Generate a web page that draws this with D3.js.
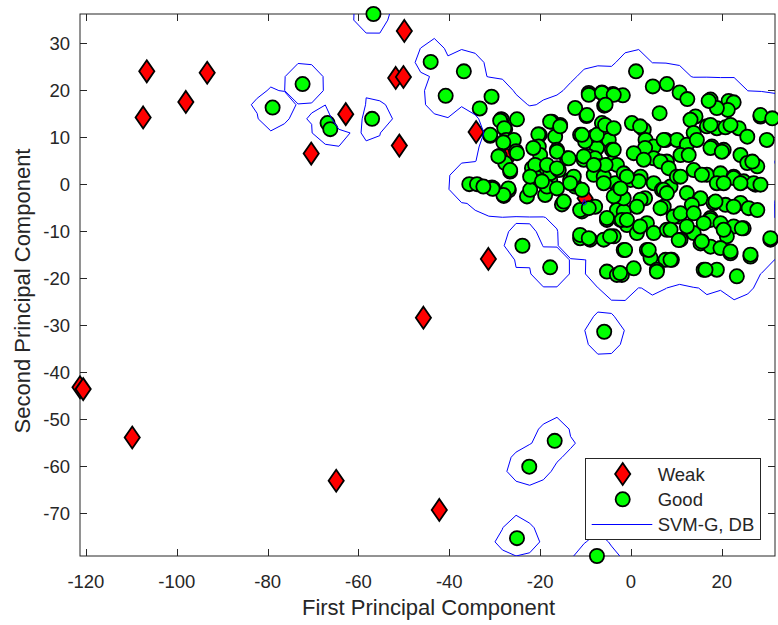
<!DOCTYPE html>
<html>
<head>
<meta charset="utf-8">
<script src="https://cdn.jsdelivr.net/npm/d3@7"></script>
<style>
  body { margin: 0; background: #fff; }
  svg { display: block; }
  text { font-family: "Liberation Sans", Arial, Helvetica, sans-serif; fill: #262626; }
</style>
</head>
<body>
<svg id="chart" width="778" height="625"></svg>
<script>
// Samples projected on the first two principal components: [PC1, PC2]
const weakPoints = [
  [-106.6, 24.0], [-107.4, 14.2], [-98.0, 17.5], [-93.3, 23.7],
  [-49.9, 32.6], [-51.8, 22.6], [-50.1, 22.8], [-62.8, 14.9],
  [-70.4, 6.5], [-51.0, 8.2], [-34.1, 11.1], [-31.4, -15.9],
  [-45.7, -28.4], [-121.3, -43.2], [-120.6, -43.6], [-109.8, -53.9],
  [-64.9, -63.1], [-42.2, -69.3], [-10.1, -3.0], [-27.3, 5.4]
];

const goodPoints = [
  // scattered samples
  [-56.7, 36.2], [-72.3, 21.3], [-78.9, 16.3], [-66.8, 13.0], [-66.2, 11.7],
  [-57.0, 13.9], [-44.1, 26.0], [-36.8, 24.0], [-40.8, 18.8], [-16.8, -54.6],
  [-22.4, -60.1], [-25.1, -75.3], [-7.5, -79.1], [-5.9, -31.4], [-23.9, -13.1],
  [-17.8, -17.7],
  // main group
  [1.1, 24.0], [4.8, 20.8], [7.9, 21.3], [10.7, 19.5], [12.4, 18.1],
  [17.5, 18.0], [21.5, 17.7], [22.6, 17.4], [21.3, 15.8], [18.9, 16.2],
  [17.1, 17.7], [6.3, 15.1], [14.2, 14.4], [13.1, 13.7],
  [-9.3, 19.4], [-6.4, 19.5], [-4.0, 19.2], [-1.8, 18.9], [-5.9, 16.7],
  [-9.3, 19.0], [-6.4, 19.4], [-3.8, 19.0], [-5.6, 16.9],
  [-12.3, 16.2], [-9.8, 14.5], [-9.7, 14.7],
  [-30.7, 18.6], [-33.3, 16.1], [-28.6, 13.8], [-25.1, 13.8], [-27.7, 11.7],
  [-28.4, 13.7], [-28.8, 13.5], [-27.9, 11.9], [-31.0, 10.3],
  [-31.0, 10.5], [-27.5, 9.4], [-25.8, 9.4], [-25.3, 7.0], [-28.1, 8.9],
  [-28.9, 6.0], [-26.6, 2.7], [-27.7, 4.5], [-25.1, 6.6], [-29.2, 5.9], [-26.6, 3.0],
  [-30.6, -0.7], [-26.9, -1.3], [-28.0, -2.5], [-22.9, -2.6], [-22.2, -1.2],
  [-30.3, -0.9], [-27.0, -0.9], [-28.1, -2.3],
  [-35.6, 0.0], [-33.9, 0.0], [-30.5, -1.0], [-32.5, -0.5],
  [-17.4, 13.3], [-15.6, 12.6], [-20.1, 10.5], [-16.7, 10.1],
  [-20.4, 10.6], [-17.8, 13.3], [-15.6, 12.3],
  [-20.3, 8.0], [-16.3, 7.3], [-14.1, 5.5], [-20.0, 6.2], [-21.5, 7.7],
  [-16.3, 6.9], [-13.7, 5.5],
  [-21.8, 3.4], [-19.2, 2.3], [-17.8, 0.9], [-21.1, 1.6], [-21.1, 4.1],
  [-22.2, 1.6], [-17.8, 2.3],
  [-18.9, -2.3], [-15.2, -4.3], [-18.5, -0.5], [-14.8, -3.7],
  [-13.4, 0.9], [-12.3, -0.5], [-12.6, 0.1], [-10.8, -1.2], [-12.6, 1.6], [-13.4, 0.2],
  [-16.3, -0.9], [-15.9, 3.0], [-18.5, 4.1], [-16.3, 3.4], [-19.6, 0.6],
  [-11.2, 10.5], [-8.2, 10.1], [-7.5, 7.7], [-9.3, 5.9], [-10.4, 5.2],
  [-10.1, 9.1], [-4.9, 9.4], [-6.4, 13.0], [-7.9, 5.5], [-7.5, 10.5], [-10.8, 10.5],
  [-10.4, 5.9],
  [-5.7, 12.6], [-3.8, 11.9],
  [-4.2, 7.3], [-6.8, 3.8], [-8.2, 2.0], [-6.0, 1.6], [-4.2, 4.5], [-3.8, 7.3],
  [-3.1, 4.1], [-5.6, 4.1], [-8.2, 4.1],
  [-3.5, 0.2], [-1.6, 2.3], [-0.1, 0.9], [-6.0, 0.2], [-2.7, -1.2],
  [-10.8, -5.8], [-7.9, -4.8], [-5.3, -7.6], [-2.3, -7.6], [-0.9, -8.7],
  [-11.2, -5.5], [-9.3, -5.1], [-3.1, -5.5], [-1.6, -5.8], [-5.3, -7.2], [-2.0, -7.6],
  [-11.2, -11.5], [-9.0, -11.8], [-6.0, -11.8], [-3.8, -11.1], [-11.2, -10.8],
  [-9.3, -11.5], [-4.6, -11.1],
  [-1.6, -14.0], [-1.3, -14.0],
  [-5.3, -18.6], [-2.0, -19.3], [0.6, -17.9], [-3.1, -19.3], [-2.4, -18.9],
  [3.5, -14.0], [4.3, -15.7], [7.6, -16.1], [9.0, -16.1], [3.9, -14.0],
  [5.7, -18.2], [5.7, -18.6],
  [0.2, 13.0], [2.8, 11.6], [3.2, 9.4], [5.0, 8.0], [7.6, 9.4], [10.1, 9.4],
  [2.0, 12.3], [3.1, 7.7], [5.0, 5.5], [7.9, 4.8], [12.3, 8.4], [7.2, 9.4],
  [0.6, 6.6], [2.8, 5.2], [6.5, 4.8], [8.3, 3.4], [10.9, 6.2], [12.7, 6.2],
  [2.1, 1.6], [5.0, 0.2], [6.8, -1.2], [8.7, -0.5], [10.1, 1.6],
  [1.7, 0.6], [-0.9, 1.6], [-2.4, -1.9], [7.2, -1.2], [10.9, 1.6],
  [13.8, 3.0], [16.7, 2.0], [19.7, 2.3], [22.6, 1.6], [15.6, 2.0], [18.9, 0.2],
  [22.6, 1.3], [24.8, 0.6], [27.4, -0.1],
  [13.8, 10.9], [16.7, 12.3], [18.9, 11.9], [20.8, 12.1], [23.7, 11.9], [25.6, 10.1],
  [17.5, 12.6], [21.9, 12.6],
  [14.5, 9.4], [17.8, 8.0], [20.4, 7.3], [24.1, 6.2], [25.6, 4.5], [27.8, 3.8],
  [17.5, 7.7], [20.0, 6.9], [26.7, 4.8],
  [27.0, 0.2], [28.5, -0.1], [24.1, 0.2], [20.4, 0.2],
  [28.5, 14.4], [28.5, 14.7], [31.1, 14.0], [29.9, 9.4], [30.7, -11.8], [30.7, -11.5],
  [12.3, -1.9], [15.3, -3.0], [18.2, -4.0], [20.8, -4.4], [24.1, -4.0],
  [25.9, -5.1], [27.8, -5.5],
  [3.1, -3.0], [7.2, -4.8], [10.5, -6.9], [13.4, -4.4], [17.5, -7.2], [18.6, -3.7],
  [22.6, -4.8],
  [6.5, -5.1], [9.4, -6.9], [10.9, -6.2], [13.8, -6.2], [17.5, -7.6], [19.7, -8.3],
  [22.6, -9.0], [24.8, -9.4], [21.1, -11.1],
  [3.5, -8.3], [1.3, -10.4], [5.0, -10.4], [7.9, -9.7], [10.9, -11.8], [13.8, -10.4],
  [-0.9, -7.6], [2.0, -9.0], [8.7, -9.7], [12.3, -9.0], [16.0, -8.3], [20.4, -9.7],
  [24.4, -9.4],
  [15.3, -12.6], [17.5, -13.3], [19.7, -13.6], [21.9, -14.7], [10.5, -11.9], [15.6, -12.2],
  [21.9, -14.3],
  [16.0, -18.2], [18.9, -18.2], [23.3, -19.6], [26.3, -15.4], [8.7, -16.1],
  [16.4, -18.2], [26.3, -15.0],
  [7.9, -1.9], [2.1, -3.3], [-1.6, -3.0], [1.3, -4.8], [-3.8, -2.6], [-2.3, -0.9]
];

const xLimits = [-121.3, 31.7];
const yLimits = [-79.1, 36.2];
const xTicks = [-120, -100, -80, -60, -40, -20, 0, 20];
const yTicks = [-70, -60, -50, -40, -30, -20, -10, 0, 10, 20, 30];
const legendLabels = ["Weak", "Good", "SVM-G, DB"];
const xLabel = "First Principal Component";
const yLabel = "Second Principal Component";

// Gaussian-kernel classifier used for the decision boundary
const kernelSigma = 1.5;
const weakWeight = 3;
const supportRadius = 3.8;
const bias = -Math.exp(-(supportRadius * supportRadius) / (2 * kernelSigma * kernelSigma));
const gridStep = 3;

function score(px, py) {
  const s2 = 2 * kernelSigma * kernelSigma;
  let f = bias;
  for (const [gx, gy] of goodPoints) {
    const d2 = (px - gx) ** 2 + (py - gy) ** 2;
    if (d2 < 100) f += Math.exp(-d2 / s2);
  }
  for (const [wx, wy] of weakPoints) {
    const d2 = (px - wx) ** 2 + (py - wy) ** 2;
    if (d2 < 100) f -= weakWeight * Math.exp(-d2 / s2);
  }
  return f;
}

const svg = d3.select("#chart");
const plot = { left: 80, right: 775, top: 14, bottom: 556 };
const axisColor = "#262626";

const x = d3.scaleLinear().domain(xLimits).range([plot.left, plot.right]);
const y = d3.scaleLinear().domain(yLimits).range([plot.bottom, plot.top]);

svg.append("defs").append("clipPath").attr("id", "plotClip")
  .append("rect")
  .attr("x", plot.left).attr("y", plot.top)
  .attr("width", plot.right - plot.left).attr("height", plot.bottom - plot.top);

// Decision boundary from the score sampled on a regular grid
const gx0 = xLimits[0] - 2 * gridStep;
const gy0 = yLimits[0] - 2 * gridStep;
const nx = Math.ceil((xLimits[1] - xLimits[0]) / gridStep) + 5;
const ny = Math.ceil((yLimits[1] - yLimits[0]) / gridStep) + 5;
const gridValues = new Float64Array(nx * ny);
for (let j = 0; j < ny; j++) {
  for (let i = 0; i < nx; i++) {
    gridValues[j * nx + i] = score(gx0 + i * gridStep, gy0 + j * gridStep);
  }
}
const boundary = d3.contours().size([nx, ny]).thresholds([0])(gridValues);
const gridToScreen = d3.geoTransform({
  point(cx, cy) {
    this.stream.point(x(gx0 + (cx - 0.5) * gridStep), y(gy0 + (cy - 0.5) * gridStep));
  }
});
const boundaryPath = d3.geoPath(gridToScreen);

// Axes box
const tickLen = 7;
const axisG = svg.append("g");
axisG.append("rect")
  .attr("x", plot.left).attr("y", plot.top)
  .attr("width", plot.right - plot.left).attr("height", plot.bottom - plot.top)
  .attr("fill", "none").attr("stroke", axisColor).attr("stroke-width", 1);

const fontTick = 18.5;
xTicks.forEach(t => {
  const px = Math.round(x(t)) + 0.5;
  axisG.append("line").attr("x1", px).attr("x2", px)
    .attr("y1", plot.bottom).attr("y2", plot.bottom - tickLen)
    .attr("stroke", axisColor);
  axisG.append("line").attr("x1", px).attr("x2", px)
    .attr("y1", plot.top).attr("y2", plot.top + tickLen)
    .attr("stroke", axisColor);
  axisG.append("text").attr("x", x(t)).attr("y", 587.5)
    .attr("text-anchor", "middle").attr("font-size", fontTick)
    .text(t);
});
yTicks.forEach(t => {
  const py = Math.round(y(t)) + 0.5;
  axisG.append("line").attr("x1", plot.left).attr("x2", plot.left + tickLen)
    .attr("y1", py).attr("y2", py).attr("stroke", axisColor);
  axisG.append("line").attr("x1", plot.right).attr("x2", plot.right - tickLen)
    .attr("y1", py).attr("y2", py).attr("stroke", axisColor);
  axisG.append("text").attr("x", 70).attr("y", y(t) + 7)
    .attr("text-anchor", "end").attr("font-size", fontTick)
    .text(t);
});

svg.append("text").attr("x", (plot.left + plot.right) / 2 + 1).attr("y", 615)
  .attr("text-anchor", "middle").attr("font-size", 22).text(xLabel);
svg.append("text")
  .attr("transform", `translate(30,${(plot.top + plot.bottom) / 2 + 6}) rotate(-90)`)
  .attr("text-anchor", "middle").attr("font-size", 22).text(yLabel);

// Markers
const diamondPath = (w, h) => `M0,${-h}L${w},0L0,${h}L${-w},0Z`;
const markerStroke = 1.8;

svg.append("g").selectAll("path").data(weakPoints).join("path")
  .attr("transform", d => `translate(${x(d[0])},${y(d[1])})`)
  .attr("d", diamondPath(7.6, 11))
  .attr("fill", "#ff0000").attr("stroke", "#000").attr("stroke-width", markerStroke)
  .attr("stroke-linejoin", "miter");

svg.append("g").selectAll("circle").data(goodPoints).join("circle")
  .attr("cx", d => x(d[0])).attr("cy", d => y(d[1])).attr("r", 7.1)
  .attr("fill", "#00ff00").attr("stroke", "#000").attr("stroke-width", markerStroke);

svg.append("g").attr("clip-path", "url(#plotClip)")
  .selectAll("path").data(boundary).join("path")
  .attr("d", boundaryPath)
  .attr("fill", "none").attr("stroke", "#0000ff").attr("stroke-width", 1);

// Legend
const lg = svg.append("g");
lg.append("rect").attr("x", 585.5).attr("y", 458.5).attr("width", 175).attr("height", 81)
  .attr("fill", "#fff").attr("stroke", axisColor).attr("stroke-width", 1);
lg.append("path").attr("transform", "translate(622.7,474)")
  .attr("d", diamondPath(7.6, 11))
  .attr("fill", "#ff0000").attr("stroke", "#000").attr("stroke-width", markerStroke);
lg.append("circle").attr("cx", 622.7).attr("cy", 499.3).attr("r", 7.1)
  .attr("fill", "#00ff00").attr("stroke", "#000").attr("stroke-width", markerStroke);
lg.append("line").attr("x1", 591.7).attr("x2", 652.3).attr("y1", 524.5).attr("y2", 524.5)
  .attr("stroke", "#0000ff").attr("stroke-width", 1);
[474, 499.3, 524.3].forEach((cy, i) => {
  lg.append("text").attr("x", 657.7).attr("y", cy + 6.6)
    .attr("font-size", fontTick).text(legendLabels[i]);
});
</script>
</body>
</html>
